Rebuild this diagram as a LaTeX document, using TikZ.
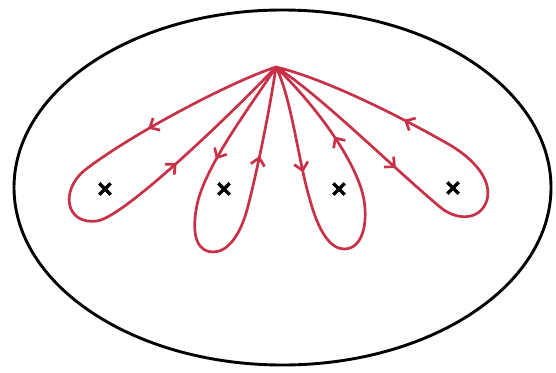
\documentclass[tikz,border=0pt]{standalone}
\usetikzlibrary{arrows.meta,decorations.markings,shapes.misc,shapes.geometric}
\definecolor{loopred}{RGB}{200,50,72}
\tikzset{
  outer/.style={draw=black,line width=2.9pt},
  crossmark/.style={cross out,draw=black,line width=3.4pt,minimum size=8pt,inner sep=0pt},
  loopline/.style={draw=loopred,line width=2.7pt,line join=round,line cap=round},
  barbs/.style 2 args={decoration={markings,
      mark=at position #1 with {\arrow[loopred]{Straight Barb[length=7.5pt,width=14pt]}},
      mark=at position #2 with {\arrow[loopred]{Straight Barb[length=7.5pt,width=14pt]}}},postaction={decorate}}
}
\begin{document}
\begin{tikzpicture}[x=1pt,y=-1pt]
\useasboundingbox (0,0) rectangle (556,372);
\fill[white] (0,0) rectangle (556,372);
\node[outer,ellipse,minimum width=537pt,minimum height=355pt,inner sep=0pt] (rim) at (282.5,187.5) {};
\coordinate (base) at (276,67);
\node[crossmark] (p1) at (105,189) {};
\node[crossmark] (p2) at (224,189) {};
\node[crossmark] (p3) at (339,189) {};
\node[crossmark] (p4) at (453,188) {};
% loop 1
\draw[loopline,barbs={142pt}{392pt}] (base) .. controls (230,82) and (130,135) .. (85,170)
  .. controls (60,190) and (65,225) .. (97,221)
  .. controls (125,217) and (235,110) .. (base);
% loop 2
\draw[loopline,barbs={110pt}{330pt}] (base) .. controls (255,100) and (205,165) .. (197,205)
  .. controls (190,240) and (200,252) .. (213,252)
  .. controls (228,252) and (240,235) .. (247,210)
  .. controls (255,180) and (268,120) .. (base);
% loop 3
\draw[loopline,barbs={109pt}{331pt}] (base) .. controls (292,100) and (298,160) .. (310,200)
  .. controls (318,230) and (330,249) .. (344,249)
  .. controls (362,249) and (368,225) .. (364,200)
  .. controls (358,165) and (320,110) .. (base);
% loop 4
\draw[loopline,barbs={157pt}{396pt}] (base) .. controls (320,95) and (390,165) .. (440,207)
  .. controls (455,220) and (480,222) .. (487,200)
  .. controls (492,180) and (475,160) .. (450,145)
  .. controls (410,122) and (330,80) .. (base);
\end{tikzpicture}
\end{document}
